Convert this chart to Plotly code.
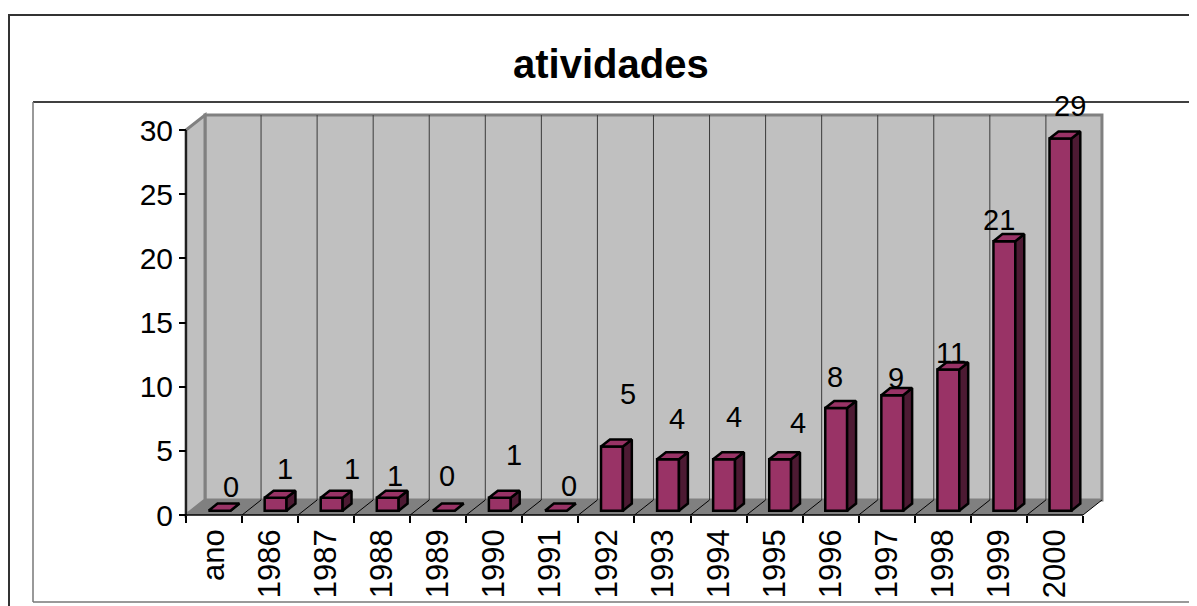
import plotly.graph_objects as go

# -------- Data --------
categories = ["ano", "1986", "1987", "1988", "1989", "1990", "1991", "1992",
              "1993", "1994", "1995", "1996", "1997", "1998", "1999", "2000"]
values = [0, 1, 1, 1, 0, 1, 0, 5, 4, 4, 4, 8, 9, 11, 21, 29]
y_ticks = [0, 5, 10, 15, 20, 25, 30]
title_text = "atividades"

# label nudges (px) as placed in the original chart
label_dx = [11, 9, 20, 7, 3, 14, 13, 16, 9, 10, 18, -1, 4, 3, -5, 10]
label_dy = [-24, -29, -29, -22, -35, -43, -25, -52, -40, -42, -36, -31, -17, -16, -21, -32]

# -------- 3D geometry (oblique projection, in axis units) --------
OFF = 8           # page body margin
W, H = 1197 - OFF, 606 - OFF
PX_X = 56.06      # px per category
PX_Y = 12.833     # px per value unit
AXIS_X0 = 186 - OFF
AXIS_Y0 = 515 - OFF
DX = 19 / PX_X    # full depth shift in x units
DY = 15 / PX_Y    # full depth shift in y units
BAR_W = 0.39
D0, D1 = 0.29, 0.76   # bar front/back depth fractions
YMAX = max(y_ticks)
n = len(categories)

x_range = [-0.5 - AXIS_X0 / PX_X, -0.5 + (W - AXIS_X0) / PX_X]
y_range = [-(H - AXIS_Y0) / PX_Y, AXIS_Y0 / PX_Y]

FONT = "Liberation Sans, Arial, sans-serif"
WALL = "#c0c0c0"
FLOOR = "#808080"
EDGE = "#808080"
BAR = "#993366"
BAR_SIDE = "#4d1a33"


def poly(pts):
    return "M " + " L ".join(f"{x},{y}" for x, y in pts) + " Z"


def px(x):
    return (x - OFF) / W


def py(y):
    return 1 - (y - OFF) / H


shapes = []
# outer frame and inner plot box
shapes.append(dict(type="rect", xref="paper", yref="paper", x0=px(9), x1=1.02,
                   y0=-0.02, y1=py(15), line=dict(color="#333333", width=2), layer="below"))
shapes.append(dict(type="line", xref="paper", yref="paper", x0=px(33), x1=1.02,
                   y0=py(102), y1=py(102), line=dict(color="black", width=1.5), layer="below"))
shapes.append(dict(type="line", xref="paper", yref="paper", x0=px(33), x1=px(33),
                   y0=py(602), y1=py(102), line=dict(color="#777777", width=1.5), layer="below"))
shapes.append(dict(type="line", xref="paper", yref="paper", x0=px(33), x1=1.02,
                   y0=py(602), y1=py(602), line=dict(color="#777777", width=1.5), layer="below"))

xl, xr = -0.5, n - 0.5
# back wall
shapes.append(dict(type="path", xref="x", yref="y",
                   path=poly([(xl + DX, DY), (xl + DX, YMAX + DY), (xr + DX, YMAX + DY), (xr + DX, DY)]),
                   fillcolor=WALL, line=dict(color=EDGE, width=3), layer="below"))
# side wall
shapes.append(dict(type="path", xref="x", yref="y",
                   path=poly([(xl, 0), (xl, YMAX), (xl + DX, YMAX + DY), (xl + DX, DY)]),
                   fillcolor=WALL, line=dict(color=EDGE, width=3), layer="below"))
# floor
shapes.append(dict(type="path", xref="x", yref="y",
                   path=poly([(xl, 0), (xr, 0), (xr + DX, DY), (xl + DX, DY)]),
                   fillcolor=FLOOR, line=dict(width=0), layer="below"))
# wall gridlines and floor dividers
for k in range(1, n):
    b = k - 0.5
    shapes.append(dict(type="line", xref="x", yref="y", x0=b + DX, x1=b + DX, y0=DY, y1=YMAX + DY,
                       line=dict(color="#3a3a3a", width=1), layer="below"))
for k in range(1, n + 1):
    b = k - 0.5
    shapes.append(dict(type="line", xref="x", yref="y", x0=b, x1=b + DX, y0=0, y1=DY,
                       line=dict(color="black", width=1), layer="below"))
# axis lines
shapes.append(dict(type="line", xref="x", yref="y", x0=xl, x1=xr, y0=0, y1=0,
                   line=dict(color="black", width=1.5), layer="below"))
shapes.append(dict(type="line", xref="x", yref="y", x0=xl, x1=xl, y0=0, y1=YMAX,
                   line=dict(color="black", width=1.5), layer="below"))

fig = go.Figure()

# front faces of the bars
xs = [i + D0 * DX for i in range(n)]
base = D0 * DY
fig.add_trace(go.Bar(
    x=xs, y=values, base=base, width=BAR_W,
    marker=dict(color=BAR, line=dict(color="black", width=2.5)),
    hoverinfo="skip"
))

# side and top faces
ddx, ddy = (D1 - D0) * DX, (D1 - D0) * DY
side_x, side_y, top_x, top_y = [], [], [], []
for i, v in enumerate(values):
    x0 = xs[i] - BAR_W / 2
    x1 = xs[i] + BAR_W / 2
    yt = base + v
    side_x += [x1, x1, x1 + ddx, x1 + ddx, x1, None]
    side_y += [base, yt, yt + ddy, base + ddy, base, None]
    top_x += [x0, x1, x1 + ddx, x0 + ddx, x0, None]
    top_y += [yt, yt, yt + ddy, yt + ddy, yt, None]

fig.add_trace(go.Scatter(x=side_x, y=side_y, mode="lines", fill="toself",
                         fillcolor=BAR_SIDE, line=dict(color="black", width=2.5),
                         hoverinfo="skip"))
fig.add_trace(go.Scatter(x=top_x, y=top_y, mode="lines", fill="toself",
                         fillcolor=BAR, line=dict(color="black", width=2.5),
                         hoverinfo="skip"))

# data labels
annotations = []
for i, v in enumerate(values):
    annotations.append(dict(
        x=xs[i], y=base + v, xref="x", yref="y", text=str(v), showarrow=False,
        xshift=label_dx[i], yshift=-label_dy[i],
        font=dict(family=FONT, size=29, color="black")
    ))
annotations.append(dict(
    x=px(611), y=py(64), xref="paper", yref="paper", text=f"<b>{title_text}</b>",
    showarrow=False, xanchor="center", yanchor="middle",
    font=dict(family=FONT, size=40, color="black")
))

fig.update_layout(
    width=W, height=H,
    margin=dict(l=0, r=0, t=0, b=0),
    paper_bgcolor="white", plot_bgcolor="white",
    showlegend=False,
    shapes=shapes,
    annotations=annotations,
    xaxis=dict(
        range=x_range, showgrid=False, zeroline=False, showline=False,
        tickmode="array", tickvals=list(range(n)), ticktext=categories,
        tickangle=-90, ticks="", ticklabelstandoff=7,
        tickfont=dict(family=FONT, size=31, color="black"),
        minor=dict(tickmode="array", tickvals=[k - 0.5 for k in range(n + 1)],
                   ticks="outside", ticklen=7, tickcolor="black", tickwidth=1.5, showgrid=False),
        anchor="free", position=1 - AXIS_Y0 / H
    ),
    yaxis=dict(
        range=y_range, showgrid=False, zeroline=False, showline=False,
        tickmode="array", tickvals=y_ticks, ticks="outside", ticklen=7,
        tickcolor="black", tickwidth=1.5,
        tickfont=dict(family=FONT, size=30, color="black"),
        anchor="free", position=AXIS_X0 / W
    ),
)

fig.write_html("out.html")
